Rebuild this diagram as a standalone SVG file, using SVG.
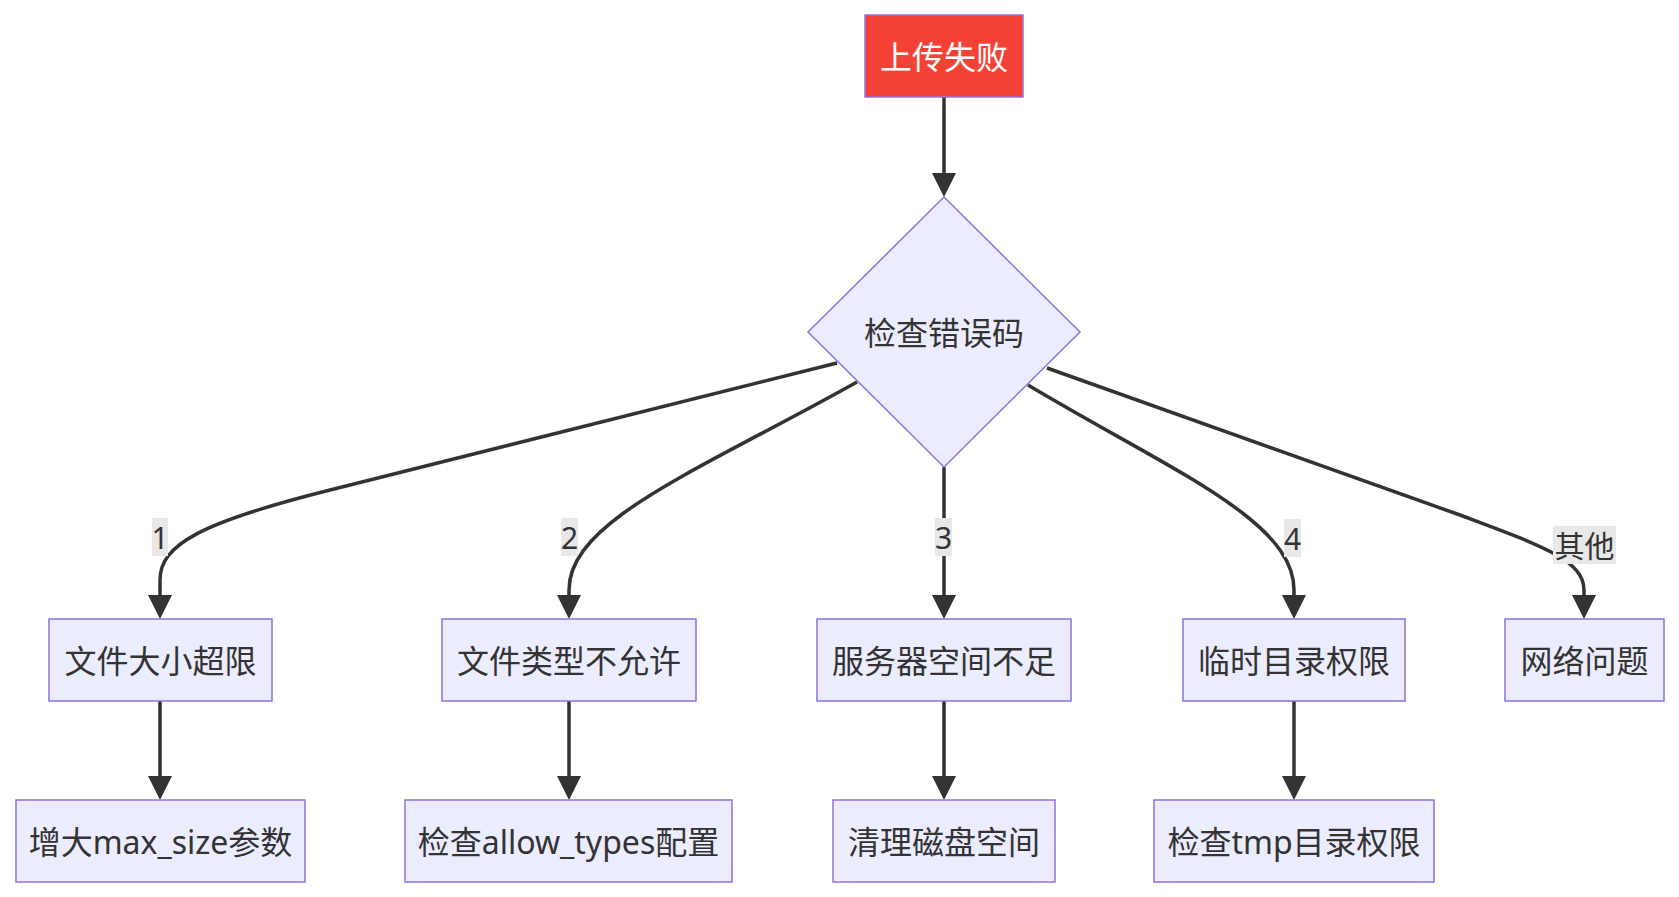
<svg xmlns="http://www.w3.org/2000/svg" width="1679" height="897" viewBox="0 0 1679 897">
<style>
.node rect, .node polygon { fill: #ECECFF; stroke: #9370DB; stroke-width: 1.5; }
.node text { font-family: "Noto Sans", "Noto Sans CJK SC", sans-serif; font-size: 32px; fill: #333333; text-anchor: middle; dominant-baseline: central; }
.edge { fill: none; stroke: #333333; stroke-width: 3.5; }
.lbl rect { fill: #E8E8E8; }
.lbl text { font-family: "Noto Sans", "Noto Sans CJK SC", sans-serif; font-size: 30px; fill: #333333; text-anchor: middle; dominant-baseline: central; }
</style>
<defs>
<marker id="arr" markerUnits="userSpaceOnUse" markerWidth="24" markerHeight="24" refX="20" refY="12" orient="auto">
<path d="M0,0 L24,12 L0,24 z" fill="#333333"/>
</marker>
</defs>
<rect width="1679" height="897" fill="#ffffff"/>
<g id="connectors">
<path class="edge" d="M944,96 L944,193" marker-end="url(#arr)"/>
<path class="edge" d="M837,363 L330,490 C200,522.6 160,545 160,580 L160,615" marker-end="url(#arr)"/>
<path class="edge" d="M857,382 C700,470 569,520 569,590 L569,615" marker-end="url(#arr)"/>
<path class="edge" d="M944,467 L944,615" marker-end="url(#arr)"/>
<path class="edge" d="M1028,385 C1170,470 1294,520 1294,590 L1294,615" marker-end="url(#arr)"/>
<path class="edge" d="M1047,368 L1460,515 C1540,545 1584,560 1584,590 L1584,615" marker-end="url(#arr)"/>
<path class="edge" d="M160,701 L160,796" marker-end="url(#arr)"/>
<path class="edge" d="M569,701 L569,796" marker-end="url(#arr)"/>
<path class="edge" d="M944,701 L944,796" marker-end="url(#arr)"/>
<path class="edge" d="M1294,701 L1294,796" marker-end="url(#arr)"/>
<g class="lbl" id="label-1"><rect x="152" y="518" width="16" height="38"/><text x="160" y="537">1</text></g>
<g class="lbl" id="label-2"><rect x="561" y="518" width="17" height="38"/><text x="569.5" y="537">2</text></g>
<g class="lbl" id="label-3"><rect x="935" y="518" width="17" height="38"/><text x="943.5" y="537">3</text></g>
<g class="lbl" id="label-4"><rect x="1284" y="519" width="17" height="38"/><text x="1292.5" y="538">4</text></g>
<g class="lbl" id="label-other"><rect x="1553" y="526" width="63" height="38"/><text x="1584.5" y="545">其他</text></g>
</g>
<g id="A" class="node"><rect x="865" y="15" width="158" height="82" style="fill:#F44336"/><text x="944" y="56" style="fill:#ffffff">上传失败</text></g>
<g id="B" class="node"><polygon points="944,197 1080,332 944,467 808,332"/><text x="944" y="332">检查错误码</text></g>
<g id="C1" class="node"><rect x="49" y="619" width="223" height="82"/><text x="160.5" y="660">文件大小超限</text></g>
<g id="C2" class="node"><rect x="442" y="619" width="254" height="82"/><text x="569" y="660">文件类型不允许</text></g>
<g id="C3" class="node"><rect x="817" y="619" width="254" height="82"/><text x="944" y="660">服务器空间不足</text></g>
<g id="C4" class="node"><rect x="1183" y="619" width="222" height="82"/><text x="1294" y="660">临时目录权限</text></g>
<g id="C5" class="node"><rect x="1505" y="619" width="159" height="82"/><text x="1584.5" y="660">网络问题</text></g>
<g id="D1" class="node"><rect x="16" y="800" width="289" height="82"/><text x="160.5" y="841">增大max_size参数</text></g>
<g id="D2" class="node"><rect x="405" y="800" width="327" height="82"/><text x="568.5" y="841">检查allow_types配置</text></g>
<g id="D3" class="node"><rect x="833" y="800" width="222" height="82"/><text x="944" y="841">清理磁盘空间</text></g>
<g id="D4" class="node"><rect x="1154" y="800" width="280" height="82"/><text x="1294" y="841">检查tmp目录权限</text></g>
</svg>
